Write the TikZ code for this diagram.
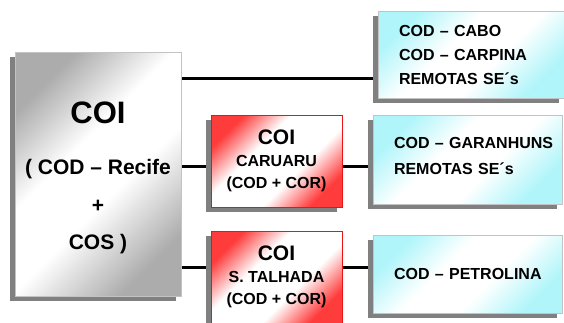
\documentclass[tikz,border=0pt]{standalone}
\usepackage{fontspec}
\setmainfont{Liberation Sans}
\usepackage{tikz}
\usetikzlibrary{shadows,backgrounds}
\definecolor{redfill}{RGB}{255,60,60}
\definecolor{redline}{RGB}{235,20,20}
\definecolor{cyanfill}{RGB}{175,245,250}
\definecolor{grayfill}{RGB}{172,172,172}
\definecolor{boxline}{RGB}{195,195,195}
\definecolor{shadowgray}{RGB}{128,128,128}
\pgfdeclarehorizontalshading{redglow}{100bp}{color(0bp)=(redfill); color(25bp)=(redfill); color(40bp)=(white); color(60bp)=(white); color(75bp)=(redfill); color(100bp)=(redfill)}
\pgfdeclarehorizontalshading{cyanglow}{100bp}{color(0bp)=(cyanfill); color(25bp)=(cyanfill); color(42bp)=(white); color(58bp)=(white); color(75bp)=(cyanfill); color(100bp)=(cyanfill)}
\pgfdeclarehorizontalshading{grayglow}{100bp}{color(0bp)=(grayfill); color(25bp)=(grayfill); color(42bp)=(white); color(56bp)=(white); color(75bp)=(grayfill); color(100bp)=(grayfill)}

\begin{document}
\begin{tikzpicture}[
  x=1pt, y=-1pt,
  boxshadow/.style={drop shadow={shadow xshift=-5pt, shadow yshift=-5pt,
    fill=shadowgray, opacity=1}},
  coibox/.style={boxshadow, draw=boxline, line width=0.8pt, shading=grayglow,
    shading angle=-45, minimum width=166pt, minimum height=244pt,
    align=center, inner sep=0pt, font=\fontsize{21}{37.5}\selectfont\bfseries},
  redbox/.style={boxshadow, draw=redline, line width=0.8pt, shading=redglow,
    shading angle=-45, minimum width=131pt, minimum height=92pt,
    align=center, inner sep=0pt, font=\fontsize{16}{22}\selectfont\bfseries},
  cyanbox/.style={boxshadow, draw=boxline, line width=0.8pt, shading=cyanglow,
    shading angle=-45, align=left, inner xsep=21pt, inner ysep=0pt,
    font=\fontsize{16}{24}\selectfont\bfseries},
  link/.style={black, line width=3pt},
]
  \useasboundingbox (0,0) rectangle (564,322);

  % === COI (left) ===
  \node[coibox, text height=156pt] (coi) at (98,174)
    {{\fontsize{31}{31}\selectfont COI}\\[13.5pt]( COD – Recife\\+\\COS )};

  % === COI regional (middle) ===
  \node[redbox] (caruaru) at (276.5,161)
    {{\fontsize{21}{22}\selectfont COI}\\CARUARU\\(COD + COR)};
  \node[redbox] (talhada) at (276.5,277)
    {{\fontsize{21}{22}\selectfont COI}\\S. TALHADA\\(COD + COR)};

  % === COD (right) ===
  \node[cyanbox, text width=144pt, minimum height=87pt] (cabo) at (471,54.5)
    {\mbox{COD – CABO}\\\mbox{COD – CARPINA}\\\mbox{REMOTAS SE´s}};
  \node[cyanbox, text width=147pt, minimum height=89pt, text depth=33pt,
    font=\fontsize{16}{26}\selectfont\bfseries] (garanhuns) at (467.5,159.5)
    {\mbox{COD – GARANHUNS}\\\mbox{REMOTAS SE´s}};
  \node[cyanbox, text width=147pt, minimum height=78pt] (petrolina) at (467.5,274)
    {\mbox{COD – PETROLINA}};

  % Link levels
  \coordinate (lvA) at (0,78);
  \coordinate (lvB) at (0,166);
  \coordinate (lvC) at (0,267.5);

  \begin{scope}[on background layer]
    \draw[link] (coi.east |- lvA) -- (cabo.west |- lvA);
    \draw[link] (coi.east |- lvB) -- (caruaru.west |- lvB);
    \draw[link] (caruaru.east |- lvB) -- (garanhuns.west |- lvB);
    \draw[link] (coi.east |- lvC) -- (talhada.west |- lvC);
    \draw[link] (talhada.east |- lvC) -- (petrolina.west |- lvC);
  \end{scope}
\end{tikzpicture}
\end{document}
